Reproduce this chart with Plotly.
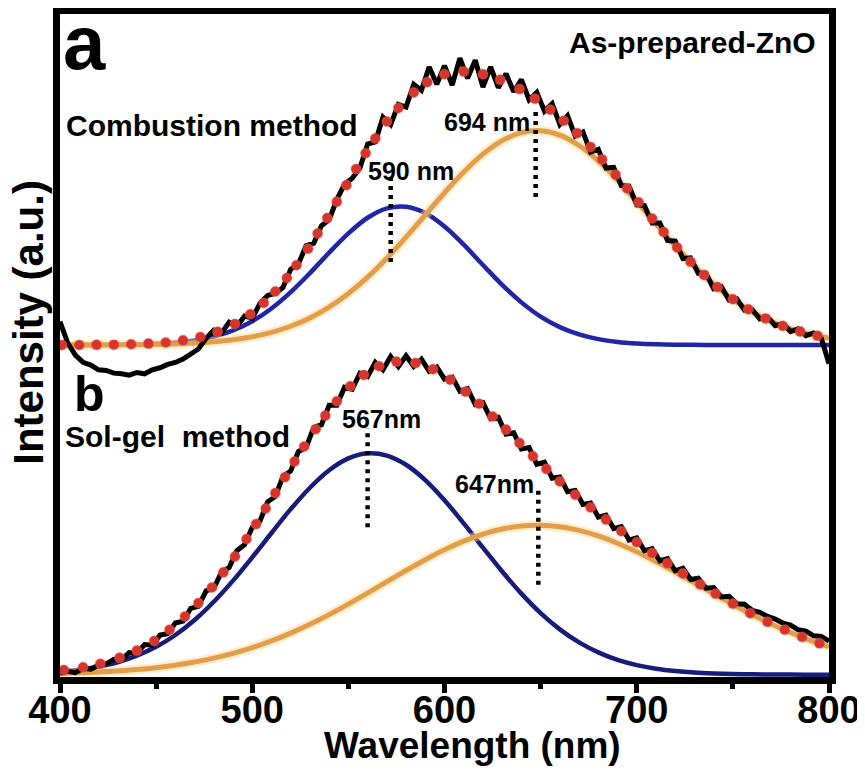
import plotly.graph_objects as go

# ---------------- data ----------------
wl_raw = list(range(400, 801, 4))      # measured spectrum grid (nm)
wl_fit = list(range(400, 801, 10))     # component-curve grid (nm)

# (a) Combustion method, offset spectrum
raw_a = [0.535, 0.503, 0.485, 0.474, 0.470, 0.463, 0.462, 0.458, 0.457, 0.455,
         0.459, 0.457, 0.463, 0.466, 0.471, 0.474, 0.479, 0.486, 0.494, 0.510,
         0.522, 0.518, 0.534, 0.528, 0.543, 0.540, 0.562, 0.574, 0.577, 0.586,
         0.613, 0.621, 0.648, 0.652, 0.678, 0.687, 0.717, 0.740, 0.749, 0.764,
         0.800, 0.803, 0.840, 0.829, 0.859, 0.855, 0.889, 0.880, 0.915, 0.889,
         0.917, 0.888, 0.928, 0.898, 0.925, 0.885, 0.915, 0.884, 0.905, 0.878,
         0.896, 0.866, 0.877, 0.849, 0.860, 0.829, 0.842, 0.812, 0.818, 0.788,
         0.792, 0.764, 0.765, 0.738, 0.737, 0.709, 0.708, 0.682, 0.682, 0.656,
         0.655, 0.629, 0.630, 0.607, 0.607, 0.584, 0.587, 0.567, 0.569, 0.552,
         0.553, 0.539, 0.542, 0.529, 0.532, 0.520, 0.524, 0.514, 0.518, 0.510,
         0.472]
blue_a = [0.5000, 0.5000, 0.5001, 0.5003, 0.5008, 0.5017, 0.5035, 0.5069, 0.5126, 0.5218,
          0.5355, 0.5545, 0.5788, 0.6073, 0.6378, 0.6666, 0.6899, 0.7040, 0.7064, 0.6969,
          0.6768, 0.6497, 0.6194, 0.5898, 0.5636, 0.5424, 0.5267, 0.5158, 0.5088, 0.5046,
          0.5023, 0.5011, 0.5005, 0.5002, 0.5001, 0.5000, 0.5000, 0.5000, 0.5000, 0.5000,
          0.5000]
orange_a = [0.5000, 0.5001, 0.5001, 0.5003, 0.5005, 0.5009, 0.5016, 0.5028, 0.5048, 0.5079,
            0.5124, 0.5189, 0.5280, 0.5404, 0.5565, 0.5768, 0.6012, 0.6295, 0.6609, 0.6941,
            0.7272, 0.7583, 0.7848, 0.8050, 0.8169, 0.8198, 0.8133, 0.7978, 0.7748, 0.7462,
            0.7141, 0.6808, 0.6481, 0.6178, 0.5910, 0.5682, 0.5496, 0.5351, 0.5240, 0.5160,
            0.5103]
sum_a_x = [401, 410, 419, 428, 437, 446, 455, 464, 473, 482,
           491, 499, 506, 512, 518, 523, 529, 534, 539, 544,
           549, 554, 559, 564, 570, 576, 584, 591, 600, 610,
           620, 629, 639, 647, 655, 662, 669, 676, 682, 689,
           695, 701, 708, 714, 721, 728, 735, 742, 750, 758,
           767, 776, 785, 794]
sum_a_y = [0.5000, 0.5001, 0.5002, 0.5005, 0.5011, 0.5021, 0.5038, 0.5069, 0.5120, 0.5199,
           0.5315, 0.5458, 0.5628, 0.5798, 0.6000, 0.6191, 0.6436, 0.6663, 0.6896, 0.7139,
           0.7385, 0.7625, 0.7863, 0.8081, 0.8335, 0.8538, 0.8768, 0.8923, 0.9040, 0.9080,
           0.9042, 0.8957, 0.8819, 0.8677, 0.8511, 0.8347, 0.8162, 0.7956, 0.7770, 0.7541,
           0.7336, 0.7130, 0.6888, 0.6686, 0.6455, 0.6241, 0.6045, 0.5865, 0.5682, 0.5533,
           0.5395, 0.5284, 0.5200, 0.5137]

# (b) Sol-gel method
raw_b = [0.010, 0.013, 0.011, 0.017, 0.016, 0.022, 0.024, 0.031, 0.030, 0.041,
         0.040, 0.053, 0.052, 0.067, 0.069, 0.085, 0.088, 0.107, 0.110, 0.133,
         0.137, 0.161, 0.168, 0.193, 0.202, 0.228, 0.237, 0.266, 0.274, 0.304,
         0.312, 0.341, 0.347, 0.377, 0.381, 0.410, 0.410, 0.437, 0.434, 0.458,
         0.453, 0.474, 0.463, 0.483, 0.468, 0.484, 0.468, 0.479, 0.461, 0.467,
         0.449, 0.452, 0.431, 0.435, 0.411, 0.414, 0.390, 0.392, 0.367, 0.369,
         0.345, 0.347, 0.322, 0.325, 0.301, 0.303, 0.281, 0.283, 0.262, 0.264,
         0.243, 0.246, 0.226, 0.229, 0.209, 0.212, 0.193, 0.196, 0.178, 0.181,
         0.163, 0.167, 0.150, 0.152, 0.137, 0.138, 0.124, 0.125, 0.114, 0.113,
         0.104, 0.101, 0.095, 0.091, 0.085, 0.082, 0.075, 0.073, 0.066, 0.065,
         0.058]
blue_b = [0.0123, 0.0153, 0.0198, 0.0265, 0.0363, 0.0495, 0.0672, 0.0896, 0.1168, 0.1483,
          0.1831, 0.2194, 0.2550, 0.2870, 0.3131, 0.3307, 0.3383, 0.3350, 0.3213, 0.2984,
          0.2683, 0.2338, 0.1975, 0.1620, 0.1289, 0.0998, 0.0756, 0.0561, 0.0412, 0.0300,
          0.0222, 0.0169, 0.0134, 0.0111, 0.0098, 0.0090, 0.0085, 0.0083, 0.0081, 0.0080,
          0.0080]
orange_b = [0.0098, 0.0107, 0.0118, 0.0134, 0.0156, 0.0184, 0.0221, 0.0268, 0.0326, 0.0397,
            0.0483, 0.0584, 0.0700, 0.0831, 0.0976, 0.1133, 0.1298, 0.1467, 0.1634, 0.1795,
            0.1943, 0.2072, 0.2178, 0.2254, 0.2299, 0.2310, 0.2287, 0.2233, 0.2150, 0.2042,
            0.1913, 0.1767, 0.1611, 0.1449, 0.1286, 0.1128, 0.0977, 0.0837, 0.0710, 0.0596,
            0.0497]
sum_b_x = [402, 412, 421, 431, 440, 449, 457, 465, 472, 479,
           485, 491, 497, 502, 507, 512, 517, 522, 527, 533,
           538, 544, 551, 558, 566, 575, 585, 594, 603, 611,
           618, 625, 632, 639, 646, 653, 660, 668, 676, 684,
           692, 700, 708, 716, 724, 733, 741, 750, 759, 768,
           777, 786, 795]
sum_b_y = [0.0149, 0.0191, 0.0244, 0.0331, 0.0439, 0.0583, 0.0749, 0.0949, 0.1150, 0.1381,
           0.1607, 0.1843, 0.2104, 0.2327, 0.2559, 0.2792, 0.3028, 0.3260, 0.3486, 0.3743,
           0.3946, 0.4160, 0.4384, 0.4553, 0.4683, 0.4752, 0.4733, 0.4638, 0.4481, 0.4304,
           0.4124, 0.3934, 0.3737, 0.3537, 0.3340, 0.3149, 0.2963, 0.2764, 0.2575, 0.2394,
           0.2221, 0.2055, 0.1896, 0.1741, 0.1591, 0.1427, 0.1287, 0.1138, 0.0998, 0.0868,
           0.0750, 0.0642, 0.0547]

# peak markers: label, label x, label y, line x, line y0, line y1
peak_labels = ["590 nm", "694 nm", "567nm", "647nm"]
peak_label_x = [582.6, 622.1, 567.4, 626.0]
peak_label_y = [0.759, 0.833, 0.389, 0.292]
peak_line_x = [572.0, 647.4, 560.0, 648.8]
peak_line_y0 = [0.624, 0.721, 0.228, 0.142]
peak_line_y1 = [0.758, 0.854, 0.376, 0.287]

x_ticks = [400, 500, 600, 700, 800]
x_minor = [450, 550, 650, 750]

# ---------------- figure ----------------
FONT = "Liberation Sans, Arial, Helvetica, sans-serif"
BLUE_A = "#2126a8"
BLUE_B = "#161c7c"
ORANGE = "#e39e4b"
GLOW = "rgba(255,220,150,0.45)"
RED = "#d6352c"

fig = go.Figure()

def add_panel(raw, blue, orange, sx, sy, blue_color):
    fig.add_trace(go.Scatter(x=wl_fit, y=blue, mode="lines", line_shape="spline",
                             line=dict(color=blue_color, width=4.5), hoverinfo="skip"))
    fig.add_trace(go.Scatter(x=wl_fit, y=orange, mode="lines", line_shape="spline",
                             line=dict(color=GLOW, width=10), hoverinfo="skip"))
    fig.add_trace(go.Scatter(x=wl_fit, y=orange, mode="lines", line_shape="spline",
                             line=dict(color=ORANGE, width=5), hoverinfo="skip"))
    fig.add_trace(go.Scatter(x=wl_raw, y=raw, mode="lines",
                             line=dict(color="black", width=5), hoverinfo="skip"))
    fig.add_trace(go.Scatter(x=sx, y=sy, mode="markers",
                             marker=dict(color=RED, size=10,
                                         line=dict(color="rgba(235,90,80,0.35)", width=1.5)),
                             hoverinfo="skip"))

add_panel(raw_a, blue_a, orange_a, sum_a_x, sum_a_y, BLUE_A)
add_panel(raw_b, blue_b, orange_b, sum_b_x, sum_b_y, BLUE_B)

for lx, y0, y1 in zip(peak_line_x, peak_line_y0, peak_line_y1):
    fig.add_shape(type="line", xref="x", yref="y", x0=lx, x1=lx, y0=y0, y1=y1,
                  line=dict(color="black", width=4.5, dash="4px,5px"))

def bold(size):
    return dict(family=FONT, size=size, color="black", weight="bold")

annos = [
    dict(x=400.5, y=0.951, text="a", xanchor="left", yanchor="middle", font=bold(76)),
    dict(x=406, y=0.427, text="b", xanchor="left", yanchor="middle", font=bold(50)),
    dict(x=402.0, y=0.828, text="Combustion method", xanchor="left", yanchor="middle", font=bold(30)),
    dict(x=401.3, y=0.363, text="Sol-gel\u00a0 method", xanchor="left", yanchor="middle", font=bold(30)),
    dict(x=794.3, y=0.951, text="As-prepared-ZnO", xanchor="right", yanchor="middle", font=bold(30)),
]
for t, tx, ty in zip(peak_labels, peak_label_x, peak_label_y):
    annos.append(dict(x=tx, y=ty, text=t, xanchor="center", yanchor="middle", font=bold(25)))
for a in annos:
    a.update(xref="x", yref="y", showarrow=False)
    fig.add_annotation(**a)

# axis titles as paper annotations
fig.add_annotation(xref="paper", yref="paper", x=0.537, y=-0.1026, text="Wavelength (nm)",
                   showarrow=False, xanchor="center", yanchor="middle", font=bold(37))
fig.add_annotation(xref="paper", yref="paper", x=-0.041, y=0.535, text="Intensity (a.u.)",
                   showarrow=False, xanchor="center", yanchor="middle", textangle=-90,
                   font=bold(42))

fig.update_xaxes(range=[400, 800], tickvals=x_ticks, ticks="outside", ticklen=9,
                 tickwidth=5, tickcolor="black", showline=True, linewidth=7,
                 linecolor="black", mirror=True, showgrid=False, zeroline=False,
                 tickfont=bold(38), automargin=False, ticklabelstandoff=-16,
                 minor=dict(tickvals=x_minor, ticks="outside", ticklen=5, tickwidth=5,
                            tickcolor="black"))
fig.update_yaxes(range=[0.0045, 0.994], showticklabels=False, ticks="", showline=True,
                 linewidth=7, linecolor="black", mirror=True, showgrid=False,
                 zeroline=False, automargin=False)

# the page adds an 8px body margin, so the figure is 8px smaller and margins shifted
fig.update_layout(width=857, height=764, margin=dict(l=52, r=36, t=6, b=95, autoexpand=False),
                  plot_bgcolor="white", paper_bgcolor="white", showlegend=False)

fig.write_html("out.html")
